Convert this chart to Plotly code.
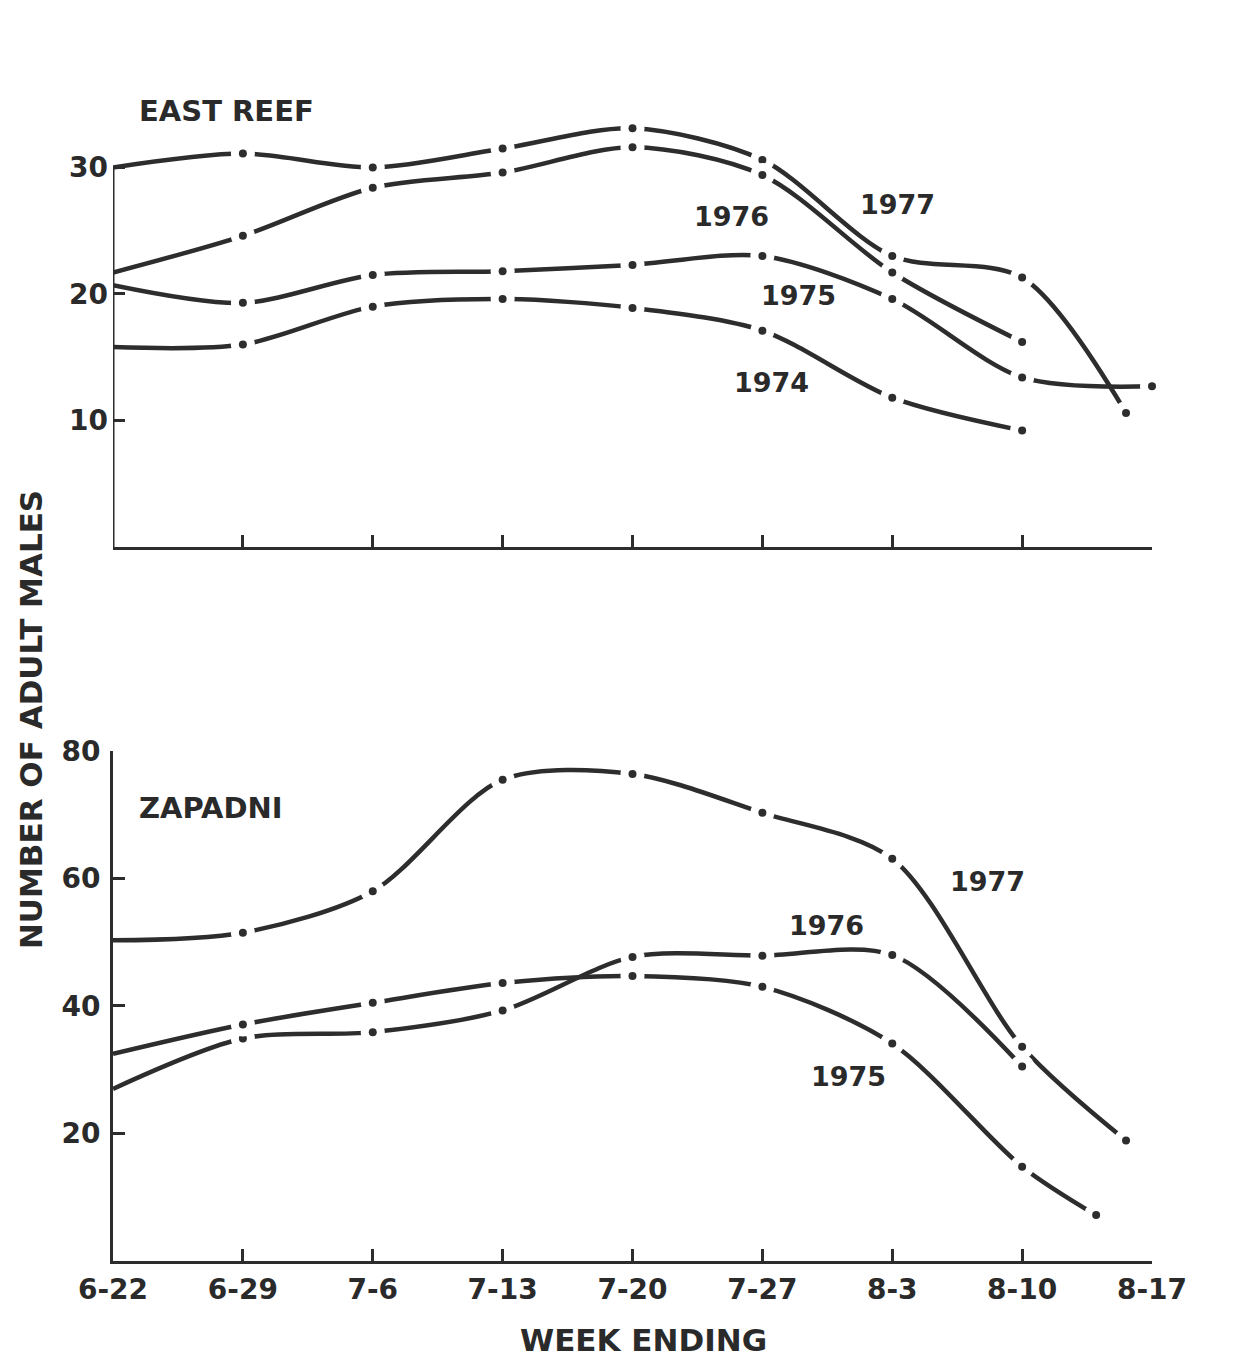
import plotly.graph_objects as go

# ---- data ----
week_labels = ['6-22', '6-29', '7-6', '7-13', '7-20', '7-27', '8-3', '8-10', '8-17']
week_pos = [0, 1, 2, 3, 4, 5, 6, 7, 8]

# East Reef (number of adult males)
east_1977_x = [0, 1, 2, 3, 4, 5, 6, 7, 7.8]
east_1977_y = [30.0, 31.1, 30.0, 31.5, 33.1, 30.6, 23.0, 21.3, 10.6]
east_1976_x = [0, 1, 2, 3, 4, 5, 6, 7]
east_1976_y = [21.7, 24.6, 28.4, 29.6, 31.6, 29.4, 21.7, 16.2]
east_1975_x = [0, 1, 2, 3, 4, 5, 6, 7, 8]
east_1975_y = [20.7, 19.3, 21.5, 21.8, 22.3, 23.0, 19.6, 13.4, 12.7]
east_1974_x = [0, 1, 2, 3, 4, 5, 6, 7]
east_1974_y = [15.8, 16.0, 19.0, 19.6, 18.9, 17.1, 11.8, 9.2]

# Zapadni
zap_1977_x = [0, 1, 2, 3, 4, 5, 6, 7, 7.8]
zap_1977_y = [50.3, 51.5, 58.0, 75.5, 76.4, 70.3, 63.1, 33.6, 18.9]
zap_1976_x = [0, 1, 2, 3, 4, 5, 6, 7]
zap_1976_y = [27.0, 34.9, 35.9, 39.3, 47.7, 47.9, 48.0, 30.5]
zap_1975_x = [0, 1, 2, 3, 4, 5, 6, 7, 7.57]
zap_1975_y = [32.5, 37.1, 40.5, 43.6, 44.7, 43.0, 34.1, 14.8, 7.2]

east_labels = [('1976', 4.76, 26.1), ('1977', 6.04, 27.1), ('1975', 5.28, 19.9), ('1974', 5.07, 13.0)]
zap_labels = [('1977', 6.73, 59.5), ('1976', 5.49, 52.7), ('1975', 5.66, 28.9)]

INK = '#2d2d2d'
TXT = '#2a2a2a'
FONT = 'DejaVu Sans'

fig = go.Figure()


def add_series(xs, ys, xa, ya):
    # solid smoothed curve
    fig.add_trace(go.Scatter(x=xs, y=ys, xaxis=xa, yaxis=ya, mode='lines',
                             line=dict(color=INK, width=4.5, shape='spline', smoothing=0.85),
                             hoverinfo='skip', showlegend=False))
    # white break around each observation, then the dot ("—·—" style)
    fig.add_trace(go.Scatter(x=xs[1:], y=ys[1:], xaxis=xa, yaxis=ya, mode='markers',
                             marker=dict(color='white', size=24, line=dict(width=0)),
                             cliponaxis=False, hoverinfo='skip', showlegend=False))
    fig.add_trace(go.Scatter(x=xs[1:], y=ys[1:], xaxis=xa, yaxis=ya, mode='markers',
                             marker=dict(color=INK, size=8, line=dict(width=0)),
                             cliponaxis=False, showlegend=False))


for xs, ys in [(east_1977_x, east_1977_y), (east_1976_x, east_1976_y),
               (east_1975_x, east_1975_y), (east_1974_x, east_1974_y)]:
    add_series(xs, ys, 'x', 'y')
for xs, ys in [(zap_1977_x, zap_1977_y), (zap_1976_x, zap_1976_y), (zap_1975_x, zap_1975_y)]:
    add_series(xs, ys, 'x2', 'y2')

axis_common = dict(showgrid=False, zeroline=False, ticks='inside', ticklen=12, tickwidth=3,
                   tickcolor=INK, tickfont=dict(family=FONT, size=28, color=TXT, weight='bold'),
                   linecolor=INK, linewidth=3)

fig.update_layout(
    width=1239, height=1361,
    margin=dict(l=113, r=87, t=40, b=100),
    paper_bgcolor='white', plot_bgcolor='white',
    xaxis=dict(**axis_common, domain=[0, 1], range=[0, 8], anchor='y', showline=True,
               tickvals=week_pos, showticklabels=False),
    yaxis=dict(**axis_common, domain=[0.5848, 0.9509], range=[0, 35.34], anchor='x',
               showline=False, tickvals=[10, 20, 30], ticklabelstandoff=4),
    xaxis2=dict(**axis_common, domain=[0, 1], range=[0, 8], anchor='y2', showline=True,
                tickvals=week_pos, ticktext=week_labels, ticklabelstandoff=1),
    yaxis2=dict(**axis_common, domain=[0, 0.4177], range=[0, 80], anchor='x2',
                showline=True, tickvals=[20, 40, 60, 80], ticklabelstandoff=4),
)

# top panel y-axis line only up to 30
fig.add_shape(type='line', xref='x', yref='y', x0=0, x1=0, y0=0, y1=30,
              line=dict(color=INK, width=3))

ann = []
ann.append(dict(text='EAST REEF', x=0.185, y=34.5, xref='x', yref='y', xanchor='left',
                showarrow=False, font=dict(family=FONT, size=29, color=TXT, weight='bold')))
ann.append(dict(text='ZAPADNI', x=0.185, y=71.1, xref='x2', yref='y2', xanchor='left',
                showarrow=False, font=dict(family=FONT, size=29, color=TXT, weight='bold')))
for t, x, y in east_labels:
    ann.append(dict(text=t, x=x, y=y, xref='x', yref='y', showarrow=False,
                    font=dict(family=FONT, size=27, color=TXT, weight='bold')))
for t, x, y in zap_labels:
    ann.append(dict(text=t, x=x, y=y, xref='x2', yref='y2', showarrow=False,
                    font=dict(family=FONT, size=27, color=TXT, weight='bold')))
ann.append(dict(text='NUMBER OF ADULT MALES', x=-0.0789, y=0.443, xref='paper', yref='paper',
                xanchor='center', yanchor='middle',
                textangle=-90, showarrow=False, font=dict(family=FONT, size=31, color=TXT, weight='bold')))
ann.append(dict(text='WEEK ENDING', x=0.511, y=-0.0647, xref='paper', yref='paper',
                xanchor='center', yanchor='middle',
                showarrow=False, font=dict(family=FONT, size=31, color=TXT, weight='bold')))
fig.update_layout(annotations=ann)

fig.write_html('out.html')
